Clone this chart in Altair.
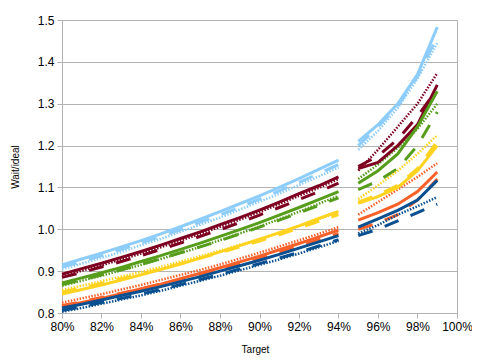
import altair as alt
import pandas as pd

targets_left = [0.80, 0.81, 0.82, 0.83, 0.84, 0.85, 0.86, 0.87, 0.88, 0.89, 0.90, 0.91, 0.92, 0.93, 0.94]
targets_right = [0.95, 0.96, 0.97, 0.98, 0.99]

color_names = ["blue", "orange", "yellow", "green", "darkred", "lightblue"]
color_values = ["#0a4f8f", "#f8602a", "#ffd320", "#579d1c", "#7e0021", "#8dcdfc"]
styles = ["solid", "dashed", "dotted"]

# left segment (80%..94%) per colour, per style
left = {
    ("lightblue", "solid"):  [0.915, 0.929, 0.943, 0.958, 0.973, 0.989, 1.006, 1.024, 1.042, 1.061, 1.080, 1.100, 1.121, 1.143, 1.165],
    ("lightblue", "dotted"): [0.905, 0.918, 0.932, 0.946, 0.962, 0.977, 0.994, 1.011, 1.028, 1.047, 1.066, 1.085, 1.106, 1.126, 1.148],
    ("lightblue", "dashed"): [0.910, 0.923, 0.937, 0.952, 0.967, 0.983, 0.999, 1.017, 1.034, 1.053, 1.072, 1.092, 1.112, 1.133, 1.155],
    ("darkred", "solid"):    [0.893, 0.906, 0.919, 0.933, 0.947, 0.962, 0.978, 0.994, 1.011, 1.028, 1.046, 1.065, 1.085, 1.104, 1.125],
    ("darkred", "dotted"):   [0.888, 0.901, 0.914, 0.928, 0.942, 0.957, 0.973, 0.989, 1.006, 1.023, 1.041, 1.060, 1.080, 1.099, 1.120],
    ("darkred", "dashed"):   [0.885, 0.897, 0.910, 0.923, 0.937, 0.952, 0.967, 0.983, 0.999, 1.016, 1.034, 1.052, 1.071, 1.090, 1.110],
    ("green", "solid"):      [0.872, 0.884, 0.896, 0.909, 0.923, 0.937, 0.952, 0.967, 0.983, 0.999, 1.016, 1.034, 1.052, 1.071, 1.090],
    ("green", "dotted"):     [0.865, 0.877, 0.889, 0.902, 0.915, 0.929, 0.943, 0.958, 0.974, 0.990, 1.007, 1.024, 1.042, 1.061, 1.080],
    ("green", "dashed"):     [0.868, 0.879, 0.891, 0.903, 0.916, 0.930, 0.944, 0.958, 0.973, 0.989, 1.005, 1.022, 1.039, 1.057, 1.075],
    ("yellow", "solid"):     [0.845, 0.856, 0.867, 0.879, 0.891, 0.904, 0.917, 0.931, 0.946, 0.961, 0.976, 0.992, 1.008, 1.026, 1.043],
    ("yellow", "dotted"):    [0.855, 0.865, 0.876, 0.887, 0.898, 0.910, 0.923, 0.936, 0.949, 0.963, 0.977, 0.992, 1.008, 1.024, 1.040],
    ("yellow", "dashed"):    [0.850, 0.860, 0.871, 0.882, 0.893, 0.905, 0.918, 0.931, 0.944, 0.958, 0.972, 0.987, 1.003, 1.019, 1.035],
    ("orange", "solid"):     [0.815, 0.825, 0.835, 0.846, 0.858, 0.869, 0.882, 0.895, 0.908, 0.922, 0.936, 0.951, 0.966, 0.982, 0.998],
    ("orange", "dotted"):    [0.825, 0.835, 0.845, 0.856, 0.867, 0.879, 0.891, 0.903, 0.916, 0.930, 0.944, 0.959, 0.974, 0.989, 1.005],
    ("orange", "dashed"):    [0.818, 0.827, 0.837, 0.847, 0.858, 0.869, 0.881, 0.893, 0.905, 0.918, 0.932, 0.946, 0.960, 0.975, 0.990],
    ("blue", "solid"):       [0.812, 0.821, 0.831, 0.842, 0.852, 0.863, 0.875, 0.887, 0.900, 0.913, 0.926, 0.940, 0.955, 0.970, 0.985],
    ("blue", "dotted"):      [0.803, 0.812, 0.822, 0.832, 0.842, 0.853, 0.865, 0.877, 0.889, 0.902, 0.915, 0.928, 0.942, 0.957, 0.972],
    ("blue", "dashed"):      [0.806, 0.815, 0.825, 0.835, 0.845, 0.856, 0.868, 0.880, 0.892, 0.905, 0.918, 0.931, 0.945, 0.960, 0.975],
}

# right segment (95%..99%)
right = {
    ("lightblue", "solid"):  [1.210, 1.250, 1.300, 1.370, 1.483],
    ("lightblue", "dotted"): [1.190, 1.235, 1.290, 1.360, 1.445],
    ("lightblue", "dashed"): [1.200, 1.245, 1.295, 1.365, 1.460],
    ("darkred", "solid"):    [1.145, 1.160, 1.200, 1.250, 1.345],
    ("darkred", "dotted"):   [1.140, 1.190, 1.245, 1.300, 1.373],
    ("darkred", "dashed"):   [1.150, 1.175, 1.215, 1.270, 1.335],
    ("green", "solid"):      [1.110, 1.140, 1.180, 1.245, 1.330],
    ("green", "dotted"):     [1.120, 1.155, 1.195, 1.240, 1.300],
    ("green", "dashed"):     [1.095, 1.115, 1.145, 1.200, 1.280],
    ("yellow", "solid"):     [1.062, 1.078, 1.100, 1.140, 1.200],
    ("yellow", "dotted"):    [1.072, 1.105, 1.140, 1.180, 1.225],
    ("yellow", "dashed"):    [1.065, 1.082, 1.105, 1.145, 1.210],
    ("orange", "solid"):     [1.022, 1.040, 1.060, 1.090, 1.137],
    ("orange", "dotted"):    [1.035, 1.065, 1.095, 1.125, 1.158],
    ("orange", "dashed"):    [1.000, 1.015, 1.035, 1.070, 1.120],
    ("blue", "solid"):       [1.005, 1.025, 1.045, 1.070, 1.117],
    ("blue", "dotted"):      [0.990, 1.010, 1.035, 1.055, 1.077],
    ("blue", "dashed"):      [0.985, 1.000, 1.020, 1.040, 1.060],
}

rows = []
for (c, s), vals in left.items():
    for t, v in zip(targets_left, vals):
        rows.append({"target": t, "value": v, "color": c, "style": s, "key": f"{c}-{s}-L"})
for (c, s), vals in right.items():
    for t, v in zip(targets_right, vals):
        rows.append({"target": t, "value": v, "color": c, "style": s, "key": f"{c}-{s}-R"})
df = pd.DataFrame(rows)

FONT = "Liberation Sans"

x_enc = alt.X("target:Q",
              scale=alt.Scale(domain=[0.8, 1.0], nice=False, zero=False),
              axis=alt.Axis(format=".0%", values=[0.80, 0.82, 0.84, 0.86, 0.88, 0.90, 0.92, 0.94, 0.96, 0.98, 1.00],
                            title="Target", grid=False, titleX=193, titleY=36,
                            titleBaseline="middle", labelOverlap=False, labelFlush=False))
y_enc = alt.Y("value:Q",
              scale=alt.Scale(domain=[0.8, 1.5], nice=False, zero=False),
              axis=alt.Axis(format=".1f", values=[0.8, 0.9, 1.0, 1.1, 1.2, 1.3, 1.4, 1.5],
                            title="Wait/ideal", titleX=-47, titleY=146.5, titleAngle=-90,
                            titleAlign="center", titleBaseline="middle", labelOverlap=False,
                            labelFlush=False))
color_enc = alt.Color("color:N", scale=alt.Scale(domain=color_names, range=color_values), legend=None)

base = alt.Chart(df)
solid = base.transform_filter(alt.datum.style == "solid").mark_line(strokeWidth=3).encode(
    x=x_enc, y=y_enc, color=color_enc, detail="key:N")
dashed = base.transform_filter(alt.datum.style == "dashed").mark_line(strokeWidth=3, strokeDash=[15, 13]).encode(
    x=x_enc, y=y_enc, color=color_enc, detail="key:N")
dotted = base.transform_filter(alt.datum.style == "dotted").mark_line(strokeWidth=2.5, strokeDash=[1.5, 1.5]).encode(
    x=x_enc, y=y_enc, color=color_enc, detail="key:N")

chart = alt.layer(dashed, dotted, solid).properties(
    width=395, height=293,
    autosize=alt.AutoSizeParams(type="none"),
    padding={"left": 54, "top": 12, "right": 15, "bottom": 43},
    background="white",
).configure_view(
    stroke="#b3b3b3", strokeWidth=1
).configure_axis(
    domainColor="#b3b3b3", tickColor="#b3b3b3", gridColor="#b3b3b3", gridWidth=1,
    tickSize=5, labelPadding=3, labelFont=FONT, labelFontSize=12, labelColor="#000000",
    titleFont=FONT, titleFontSize=10, titleFontWeight="normal", titleColor="#000000"
)

chart.save("out.html", embed_options={"renderer": "svg", "actions": False})
